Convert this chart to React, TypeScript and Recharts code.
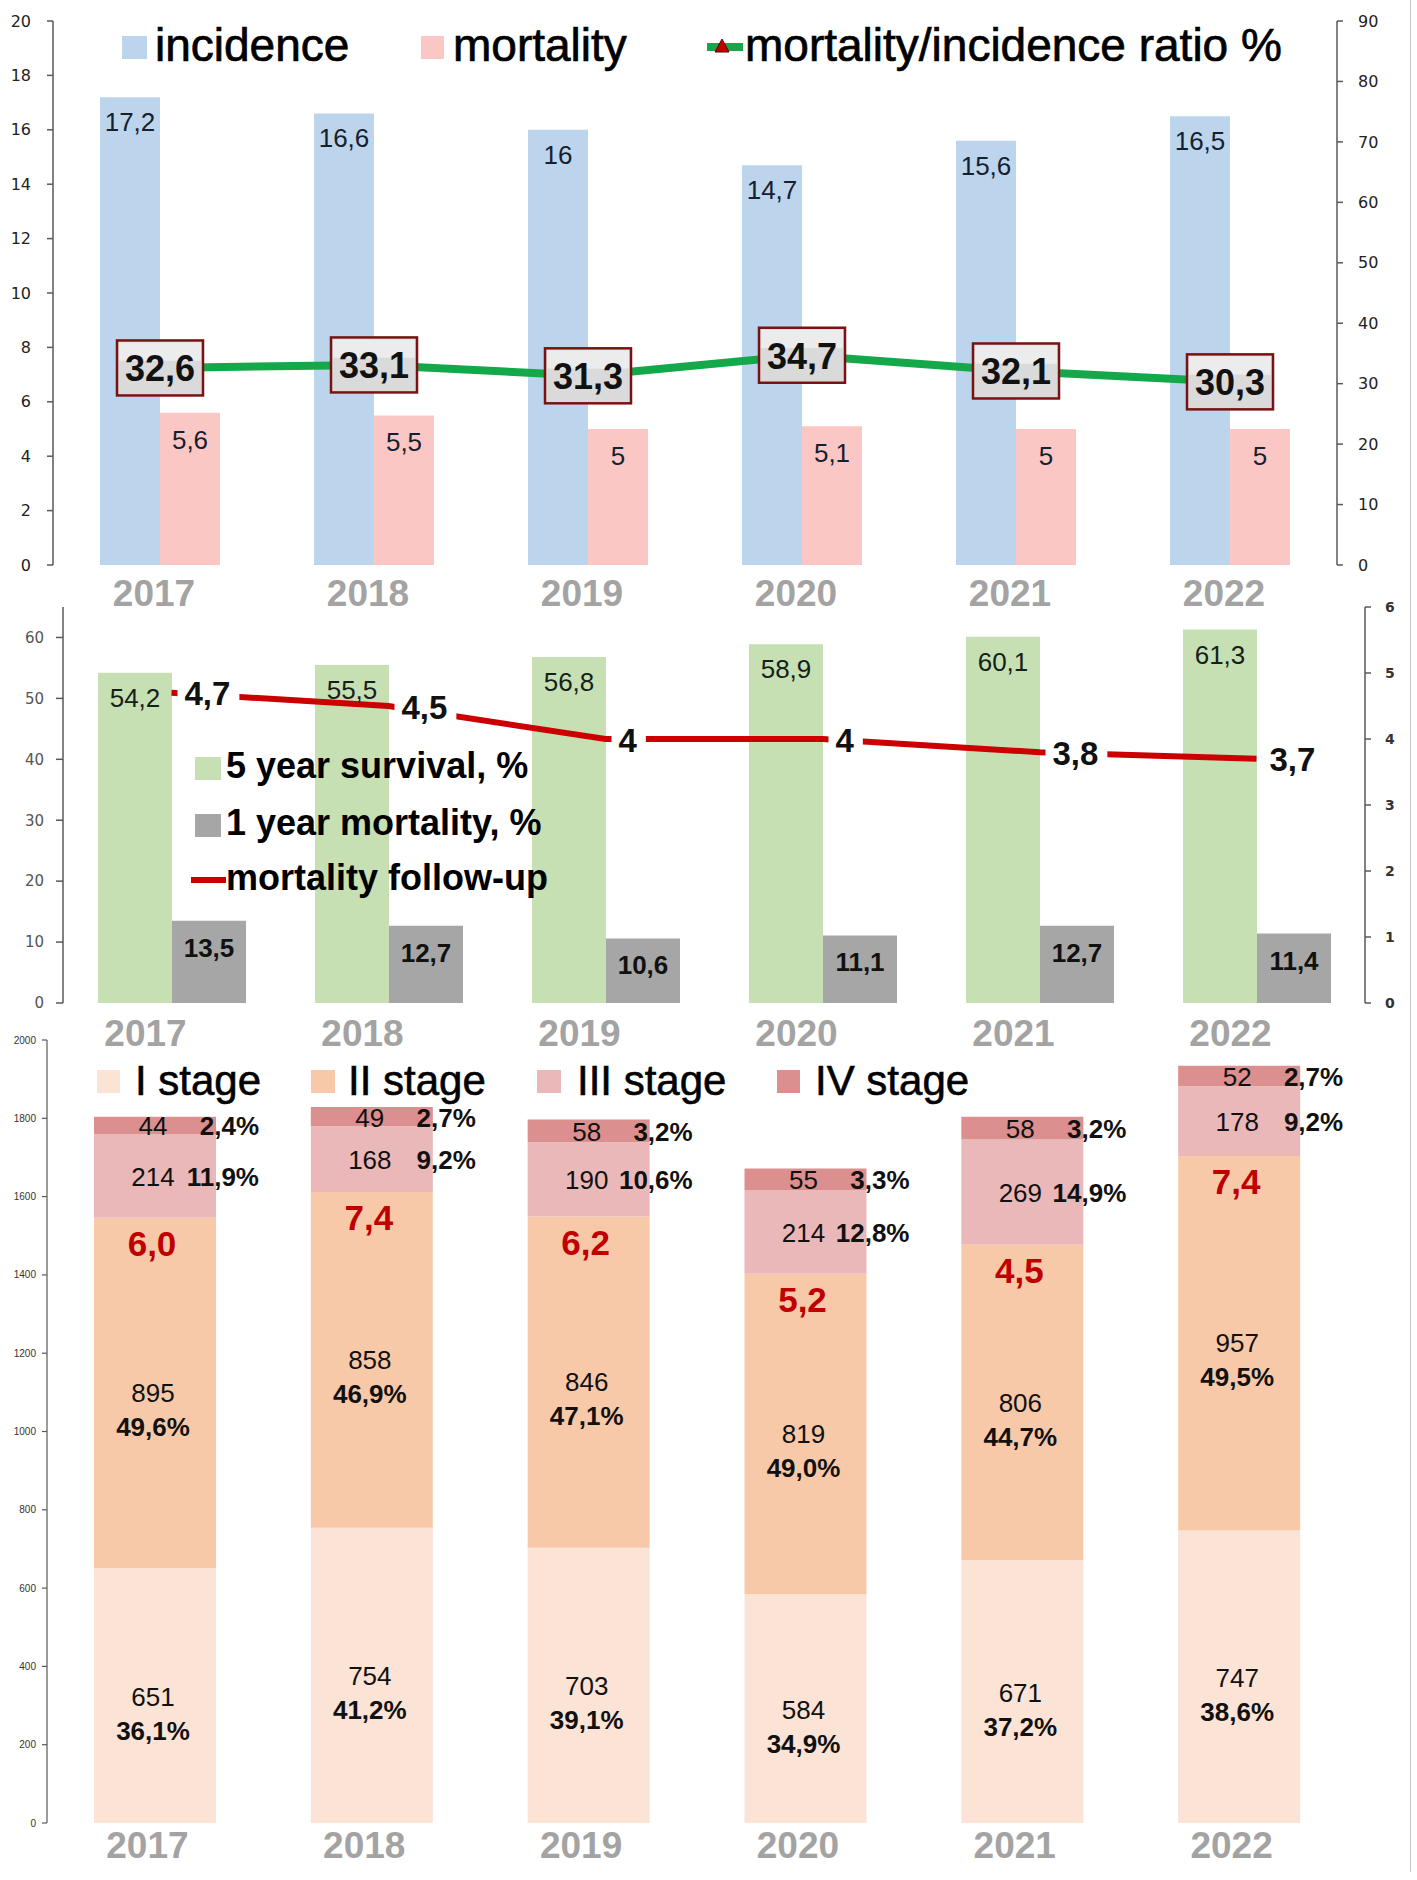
import React from 'react';
import { ComposedChart, BarChart, Bar, Line, XAxis, YAxis, LabelList, Legend } from 'recharts';

const FONT = '"Liberation Sans", Arial, Helvetica, sans-serif';
const TICKFONT = '"DejaVu Sans", Verdana, sans-serif';

// ---------- data ----------
const years = ['2017', '2018', '2019', '2020', '2021', '2022'];

// top panel
const incidence = [17.2, 16.6, 16, 14.7, 15.6, 16.5];
const mortality = [5.6, 5.5, 5, 5.1, 5, 5];
const ratioPct = [32.6, 33.1, 31.3, 34.7, 32.1, 30.3];
const topLeftTicks = [0, 2, 4, 6, 8, 10, 12, 14, 16, 18, 20];
const topRightTicks = [0, 10, 20, 30, 40, 50, 60, 70, 80, 90];

// middle panel
const survival5y = [54.2, 55.5, 56.8, 58.9, 60.1, 61.3];
const mortality1y = [13.5, 12.7, 10.6, 11.1, 12.7, 11.4];
const followUp = [4.7, 4.5, 4, 4, 3.8, 3.7];
const midLeftTicks = [0, 10, 20, 30, 40, 50, 60];
const midRightTicks = [0, 1, 2, 3, 4, 5, 6];

// bottom panel
const stage1 = [651, 754, 703, 584, 671, 747];
const stage2 = [895, 858, 846, 819, 806, 957];
const stage3 = [214, 168, 190, 214, 269, 178];
const stage4 = [44, 49, 58, 55, 58, 52];
const stage1Pct = [36.1, 41.2, 39.1, 34.9, 37.2, 38.6];
const stage2Pct = [49.6, 46.9, 47.1, 49.0, 44.7, 49.5];
const stage3Pct = [11.9, 9.2, 10.6, 12.8, 14.9, 9.2];
const stage4Pct = [2.4, 2.7, 3.2, 3.3, 3.2, 2.7];
const redMarks = [6.0, 7.4, 6.2, 5.2, 4.5, 7.4];
const botTicks = [0, 200, 400, 600, 800, 1000, 1200, 1400, 1600, 1800, 2000];

const topData = years.map((year, i) => ({ year, incidence: incidence[i], mortality: mortality[i], ratio: ratioPct[i] }));
const midData = years.map((year, i) => ({ year, survival: survival5y[i], mort1: mortality1y[i], follow: followUp[i] }));
const botData = years.map((year, i) => ({
  year,
  s1: stage1[i], s2: stage2[i], s3: stage3[i], s4: stage4[i],
  p1: stage1Pct[i], p2: stage2Pct[i], p3: stage3Pct[i], p4: stage4Pct[i],
  red: redMarks[i],
}));

const C = {
  incidence: '#bcd4ec',
  mortality: '#fbc7c5',
  ratioLine: '#14a84b',
  survival: '#c6e0b4',
  mort1: '#a6a6a6',
  follow: '#cc0000',
  s1: '#fbe3d6',
  s2: '#f8c9a9',
  s3: '#ebb8ba',
  s4: '#dc8f8f',
  year: '#a3a3a3',
  axis: '#595959',
};

const fmt = (v: number) => String(v).replace('.', ',');
const fmt1 = (v: number) => v.toFixed(1).replace('.', ',');
const textW = (s: string, fs: number) =>
  s.split('').reduce((a, c) => a + (c === ',' ? 0.278 : c === '%' ? 0.889 : 0.556), 0) * fs;

const box = (p: any) => {
  const v = p.viewBox || {};
  return {
    x: Number(v.x ?? p.x ?? 0),
    y: Number(v.y ?? p.y ?? 0),
    w: Number(v.width ?? p.width ?? 0),
    h: Number(v.height ?? p.height ?? 0),
  };
};

// ---------- label renderers ----------
const barTopLabel = (offset: number, weight: string, color: string, size = 26) => (p: any) => {
  const b = box(p);
  return (
    <text x={b.x + b.w / 2} y={b.y + offset} textAnchor="middle" dominantBaseline="central"
      fontFamily={FONT} fontSize={size} fontWeight={weight} fill={color}>{fmt(p.value)}</text>
  );
};

const ratioBox = (p: any) => {
  const b = box(p);
  const w = 86, h = 55;
  return (
    <g>
      <rect x={b.x - w / 2} y={b.y - h / 2} width={w} height={h} fill="#dadada" stroke="#7a1212" strokeWidth={2.5} />
      <rect x={b.x - w / 2 + 2} y={b.y - h / 2 + 2} width={w - 4} height={h / 3} fill="#ececec" />
      <text x={b.x} y={b.y + 1} textAnchor="middle" dominantBaseline="central" fontFamily={FONT}
        fontSize={36} fontWeight="bold" fill="#111">{fmt(p.value)}</text>
    </g>
  );
};

const followLabel = (p: any) => {
  const b = box(p);
  const s = fmt(p.value);
  const fs = 33;
  const tw = textW(s, fs);
  return (
    <g>
      <rect x={b.x + 6} y={b.y - 20} width={tw + 16} height={40} fill="#ffffff" />
      <text x={b.x + 13} y={b.y + 1} dominantBaseline="central" fontFamily={FONT} fontSize={fs}
        fontWeight="bold" fill="#111">{s}</text>
    </g>
  );
};

const stageNum = (dy: number) => (p: any) => {
  const b = box(p);
  return (
    <text x={b.x + b.w / 2 - 2} y={b.y + b.h / 2 + dy} textAnchor="middle" dominantBaseline="central"
      fontFamily={FONT} fontSize={26} fill="#111">{String(p.value)}</text>
  );
};

const stagePctCenter = (dy: number) => (p: any) => {
  const b = box(p);
  return (
    <text x={b.x + b.w / 2 - 2} y={b.y + b.h / 2 + dy} textAnchor="middle" dominantBaseline="central"
      fontFamily={FONT} fontSize={26} fontWeight="bold" fill="#111">{fmt1(p.value) + '%'}</text>
  );
};

const stagePctRight = (p: any) => {
  const b = box(p);
  return (
    <text x={b.x + b.w / 2 + 104} y={b.y + b.h / 2 + 1} textAnchor="end" dominantBaseline="central"
      fontFamily={FONT} fontSize={26} fontWeight="bold" fill="#111">{fmt1(p.value) + '%'}</text>
  );
};

const redLabel = (p: any) => {
  const b = box(p);
  return (
    <text x={b.x + b.w / 2 - 3} y={b.y + 26} textAnchor="middle" dominantBaseline="central"
      fontFamily={FONT} fontSize={35} fontWeight="bold" fill="#c00000">{fmt1(p.value)}</text>
  );
};

const yearTick = (dx: number, dy: number) => (props: any) => (
  <text x={props.x + dx} y={props.y + dy} textAnchor="middle" dominantBaseline="central"
    fontFamily={FONT} fontSize={37} fontWeight="bold" fill={C.year}>{props.payload.value}</text>
);

// ---------- legends ----------
const legendText = { fontFamily: FONT, fill: '#000' } as const;

const TopLegend = () => (
  <svg width={1417} height={80} style={{ display: 'block' }}>
    <rect x={122} y={36} width={25} height={23} fill={C.incidence} />
    <text x={155} y={61} fontSize={46} stroke="#000" strokeWidth={0.7} {...legendText}>incidence</text>
    <rect x={421} y={36} width={23} height={23} fill={C.mortality} />
    <text x={453} y={61} fontSize={46} stroke="#000" strokeWidth={0.7} {...legendText}>mortality</text>
    <line x1={707} x2={743} y1={47} y2={47} stroke={C.ratioLine} strokeWidth={8} />
    <polygon points="722,39 729,52 715,52" fill="#c00000" stroke="#5a0000" strokeWidth={1} />
    <text x={745} y={61} fontSize={46} stroke="#000" strokeWidth={0.7} {...legendText}>mortality/incidence ratio %</text>
  </svg>
);

const MidLegend = () => (
  <svg width={700} height={320} style={{ display: 'block' }}>
    <rect x={195} y={167} width={26} height={23} fill={C.survival} />
    <text x={226} y={188} fontSize={36} fontWeight="bold" {...legendText}>5 year survival, %</text>
    <rect x={195} y={224} width={26} height={23} fill={C.mort1} />
    <text x={226} y={245} fontSize={36} fontWeight="bold" {...legendText}>1 year mortality, %</text>
    <line x1={191} x2={226} y1={290} y2={290} stroke={C.follow} strokeWidth={6} />
    <text x={226} y={300} fontSize={36} fontWeight="bold" {...legendText}>mortality follow-up</text>
  </svg>
);

const BotLegend = () => (
  <svg width={1417} height={80} style={{ display: 'block' }}>
    <rect x={97} y={40} width={23} height={23} fill={C.s1} />
    <text x={135} y={65} fontSize={42} stroke="#000" strokeWidth={0.6} {...legendText}>I stage</text>
    <rect x={311} y={40} width={24} height={23} fill={C.s2} />
    <text x={348} y={65} fontSize={42} stroke="#000" strokeWidth={0.6} {...legendText}>II stage</text>
    <rect x={537} y={40} width={24} height={23} fill={C.s3} />
    <text x={577} y={65} fontSize={42} stroke="#000" strokeWidth={0.6} {...legendText}>III stage</text>
    <rect x={777} y={40} width={23} height={23} fill={C.s4} />
    <text x={815} y={65} fontSize={42} stroke="#000" strokeWidth={0.6} {...legendText}>IV stage</text>
  </svg>
);

const axisLine = { stroke: C.axis, strokeWidth: 1.5 };

export default function App() {
  return (
    <div style={{ position: 'absolute', left: 0, top: 0, width: 1417, height: 1880, background: '#fff', overflow: 'hidden' }}>
      {/* top panel */}
      <div style={{ position: 'absolute', left: 0, top: 0 }}>
        <ComposedChart width={1417} height={625} data={topData} barGap={0}
          margin={{ top: 21, right: 0, bottom: 0, left: 0 }}>
          <XAxis dataKey="year" height={60} axisLine={false} tickLine={false} tickSize={0} tickMargin={0}
            interval={0} tick={yearTick(-6, 28)} />
          <YAxis yAxisId="left" domain={[0, 20]} ticks={topLeftTicks} interval={0} width={53}
            axisLine={axisLine} tickLine={axisLine} tickSize={6} tickMargin={16}
            tick={{ fontSize: 16, fill: '#222', fontFamily: TICKFONT }} />
          <YAxis yAxisId="right" orientation="right" domain={[0, 90]} ticks={topRightTicks} interval={0} width={80}
            axisLine={axisLine} tickLine={axisLine} tickSize={6} tickMargin={15}
            tick={{ fontSize: 16, fill: '#222', fontFamily: TICKFONT }} />
          <Bar yAxisId="left" dataKey="incidence" fill={C.incidence} barSize={60} isAnimationActive={false}>
            <LabelList dataKey="incidence" content={barTopLabel(25, 'normal', '#15202e')} />
          </Bar>
          <Bar yAxisId="left" dataKey="mortality" fill={C.mortality} barSize={60} isAnimationActive={false}>
            <LabelList dataKey="mortality" content={barTopLabel(27, 'normal', '#15202e')} />
          </Bar>
          <Line yAxisId="right" type="linear" dataKey="ratio" stroke={C.ratioLine} strokeWidth={8} dot={false}
            isAnimationActive={false}>
            <LabelList dataKey="ratio" content={ratioBox} />
          </Line>
          <Legend verticalAlign="middle" align="center" layout="horizontal"
            wrapperStyle={{ position: 'absolute', top: 0, left: 0, width: 1417, height: 80, margin: 0 }}
            content={() => <TopLegend />} />
        </ComposedChart>
      </div>

      {/* middle panel */}
      <div style={{ position: 'absolute', left: 0, top: 590 }}>
        <ComposedChart width={1417} height={470} data={midData} barGap={0}
          margin={{ top: 17, right: 0, bottom: 0, left: 0 }}>
          <XAxis dataKey="year" height={57} axisLine={false} tickLine={false} tickSize={0} tickMargin={0}
            interval={0} tick={yearTick(-26, 30)} />
          <YAxis yAxisId="left" domain={[0, 65]} ticks={midLeftTicks} interval={0} width={63}
            axisLine={axisLine} tickLine={axisLine} tickSize={7} tickMargin={12}
            tick={{ fontSize: 15, fill: '#555', fontFamily: TICKFONT }} />
          <YAxis yAxisId="right" orientation="right" domain={[0, 6]} ticks={midRightTicks} interval={0} width={52}
            axisLine={axisLine} tickLine={axisLine} tickSize={6} tickMargin={14}
            tick={{ fontSize: 14, fill: '#333', fontFamily: TICKFONT, fontWeight: 'bold' }} />
          <Bar yAxisId="left" dataKey="survival" fill={C.survival} barSize={74} isAnimationActive={false}>
            <LabelList dataKey="survival" content={barTopLabel(25, 'normal', '#15201a')} />
          </Bar>
          <Bar yAxisId="left" dataKey="mort1" fill={C.mort1} barSize={74} isAnimationActive={false}>
            <LabelList dataKey="mort1" content={barTopLabel(27, 'bold', '#111')} />
          </Bar>
          <Line yAxisId="right" type="linear" dataKey="follow" stroke={C.follow} strokeWidth={6} dot={false}
            isAnimationActive={false}>
            <LabelList dataKey="follow" content={followLabel} />
          </Line>
          <Legend verticalAlign="middle" align="center" layout="horizontal"
            wrapperStyle={{ position: 'absolute', top: 0, left: 0, width: 700, height: 320, margin: 0 }}
            content={() => <MidLegend />} />
        </ComposedChart>
      </div>

      {/* bottom panel */}
      <div style={{ position: 'absolute', left: 0, top: 1030 }}>
        <BarChart width={1417} height={850} data={botData}
          margin={{ top: 10, right: 69, bottom: 0, left: 0 }}>
          <XAxis dataKey="year" height={57} axisLine={false} tickLine={false} tickSize={0} tickMargin={0}
            interval={0} tick={yearTick(-8, 22)} />
          <YAxis domain={[0, 2000]} ticks={botTicks} interval={0} width={47}
            axisLine={{ stroke: C.axis, strokeWidth: 1.2 }} tickLine={{ stroke: C.axis, strokeWidth: 1.2 }}
            tickSize={5} tickMargin={6}
            tick={{ fontSize: 10, fill: '#333', fontFamily: '"Liberation Sans Narrow", "Liberation Sans", sans-serif' }} />
          <Bar dataKey="s1" stackId="st" fill={C.s1} barSize={122} isAnimationActive={false}>
            <LabelList dataKey="s1" content={stageNum(1)} />
            <LabelList dataKey="p1" content={stagePctCenter(35)} />
          </Bar>
          <Bar dataKey="s2" stackId="st" fill={C.s2} barSize={122} isAnimationActive={false}>
            <LabelList dataKey="s2" content={stageNum(0)} />
            <LabelList dataKey="p2" content={stagePctCenter(34)} />
            <LabelList dataKey="red" content={redLabel} />
          </Bar>
          <Bar dataKey="s3" stackId="st" fill={C.s3} barSize={122} isAnimationActive={false}>
            <LabelList dataKey="s3" content={stageNum(1)} />
            <LabelList dataKey="p3" content={stagePctRight} />
          </Bar>
          <Bar dataKey="s4" stackId="st" fill={C.s4} barSize={122} isAnimationActive={false}>
            <LabelList dataKey="s4" content={stageNum(1)} />
            <LabelList dataKey="p4" content={stagePctRight} />
          </Bar>
          <Legend verticalAlign="middle" align="center" layout="horizontal"
            wrapperStyle={{ position: 'absolute', top: 0, left: 0, width: 1417, height: 80, margin: 0 }}
            content={() => <BotLegend />} />
        </BarChart>
      </div>

      <div style={{ position: 'absolute', left: 1410, top: 0, width: 1, height: 1872, background: '#c4c4c4' }} />
    </div>
  );
}
